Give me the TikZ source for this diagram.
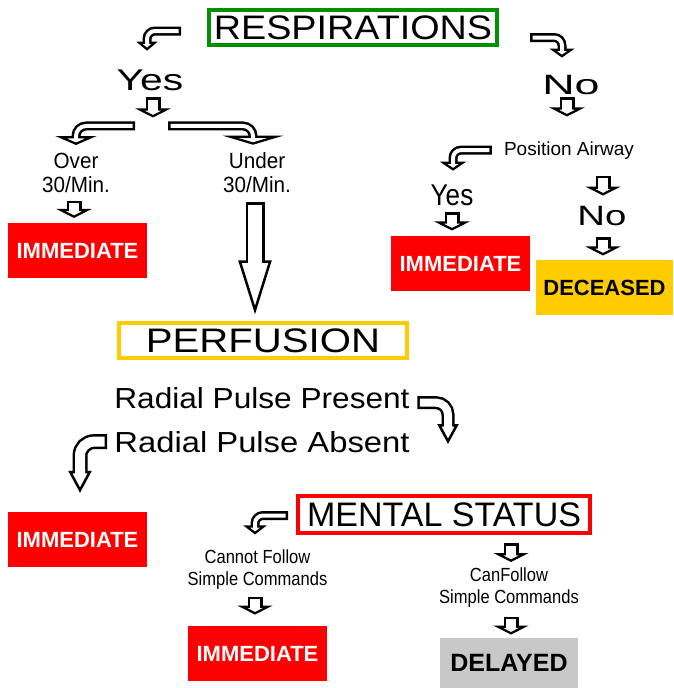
\documentclass[tikz,border=0pt]{standalone}
\usepackage{fontspec}
\setmainfont{Liberation Sans}
\usepackage{graphicx}
\usetikzlibrary{arrows.meta,calc}

\definecolor{tgreen}{RGB}{0,144,0}
\definecolor{tyellow}{RGB}{255,204,0}
\definecolor{tred}{RGB}{255,0,0}
\definecolor{tgray}{RGB}{200,200,200}

\newcommand{\widen}[2]{\scalebox{#1}[1]{#2}}
\newcommand{\fsz}[1]{\fontsize{#1}{#1}\selectfont}

\tikzset{
  word/.style={inner sep=0pt, anchor=base},
  twoline/.style={inner sep=0pt, align=center, font=\fontsize{22}{24}\selectfont},
  smalltwo/.style={inner sep=0pt, align=center, font=\fontsize{19}{22}\selectfont},
  titlebox/.style={draw=#1, line width=4pt, inner sep=0pt, font=\fsz{34}},
  tagbox/.style={fill=#1, inner sep=0pt, minimum width=139pt, minimum height=55pt, font=\fsz{22}\bfseries},
  hollow/.style n args={5}{line width=#1pt,
    -{Triangle[fill=white, width=#3pt, length=#4pt, line width=2.5pt]},
    postaction={draw=white, line width=#2pt, arrows=-, shorten <=2.5pt, shorten >=#5pt}},
  thinarr/.style={hollow={9}{4}{#1}{9}{6}, rounded corners=8pt},
  smallarr/.style={hollow={15}{10}{35}{9}{6}},
}

\begin{document}
\begin{tikzpicture}[x=1pt, y=-1pt]
  \useasboundingbox (0,0) rectangle (673,688);

  \node[titlebox=tgreen, minimum width=288pt, minimum height=35pt] (resp) at (353,27.5) {\widen{1.11}{RESPIRATIONS}};
  \node[word, font=\fsz{30}] (yes1) at (150,90) {\widen{1.36}{Yes}};
  \node[word, font=\fsz{28}] (no1) at (571,94) {\widen{1.6}{No}};
  \node[twoline] (over) at (76,173) {\widen{.94}{Over}\\\widen{.94}{30/Min.}};
  \node[twoline] (under) at (257,173) {\widen{.94}{Under}\\\widen{.94}{30/Min.}};
  \node[tagbox=tred, text=white] (imm1) at (77.5,250.5) {IMMEDIATE};
  \node[word, font=\fsz{19}] (airway) at (569,155) {Position Airway};
  \node[word, font=\fsz{30}] (yes2) at (452,205) {\widen{.87}{Yes}};
  \node[word, font=\fsz{28}] (no2) at (602,225) {\widen{1.37}{No}};
  \node[tagbox=tred, text=white] (imm2) at (460.5,263.5) {IMMEDIATE};
  \node[tagbox=tyellow, minimum width=137pt] (dead) at (604.5,287.5) {DECEASED};

  \node[titlebox=tyellow, minimum width=288pt, minimum height=35pt] (perf) at (263,340.5) {\widen{1.18}{PERFUSION}};
  \node[word, font=\fsz{29}] (present) at (262,408) {\widen{1.09}{Radial Pulse Present}};
  \node[word, font=\fsz{29}] (absent) at (262,452) {\widen{1.13}{Radial Pulse Absent}};
  \node[tagbox=tred, text=white] (imm3) at (77.5,539.5) {IMMEDIATE};

  \node[titlebox=tred, minimum width=292pt, minimum height=37pt] (mental) at (444,514.5) {MENTAL STATUS};
  \node[smalltwo] (cannot) at (257.5,569.5) {\widen{.87}{Cannot Follow}\\\widen{.87}{Simple Commands}};
  \node[smalltwo] (canfollow) at (509,588) {\widen{.87}{CanFollow}\\\widen{.87}{Simple Commands}};
  \node[tagbox=tred, text=white] (imm4) at (257.5,653.5) {IMMEDIATE};
  \node[tagbox=tgray, minimum width=138pt, minimum height=50pt, font=\fsz{25}\bfseries] (delayed) at (509,663) {DELAYED};

  \draw[thinarr=21] ($(resp.west)+(-26,3.5)$) -| ($(yes1.north)+(-3,-18.5)$);
  \draw[thinarr=25] ($(resp.east)+(31,10)$) -| ($(no1.north)+(-9,-17)$);
  \draw[smallarr] ($(yes1.south)+(3,7)$) -- ++(0,20);
  \draw[thinarr=41, rounded corners=10pt] ($(yes1.south)+(-15,35.5)$) -| ($(over.north)+(0,-8)$);
  \draw[thinarr=60, rounded corners=10pt] ($(yes1.south)+(18,35.5)$) -| ($(under.north)+(-4,-8)$);
  \draw[smallarr] ($(over.south)+(-2,8)$) -- ++(0,17);
  \draw[hollow={19}{14}{33}{54}{38}] ($(under.south)+(-2,9)$) -- ++(0,112);
  \draw[smallarr] ($(no1.south)+(-4,3)$) -- ++(0,19);
  \draw[thinarr=26] ($(airway.west)+(-12,0)$) -| ($(yes2.north)+(1,-13.5)$);
  \draw[smallarr] ($(yes2.south)+(0,7)$) -- ++(0,18);
  \draw[smallarr] ($(no2.north)+(1,-30)$) -- ++(0,20);
  \draw[smallarr] ($(no2.south)+(1,12)$) -- ++(0,18);

  \draw[hollow={13}{8}{21}{20}{14}, rounded corners=12pt] ($(present.east)+(7.5,5)$) -| ($(mental.north)+(4,-50)$);
  \draw[hollow={15}{10}{23}{22}{15}, rounded corners=14pt] ($(absent.west)+(-7,0)$) -| ($(imm3.north)+(2.5,-19)$);

  \draw[thinarr=23] ($(mental.west)+(-8,1)$) -| ($(cannot.north)+(-2.5,-15)$);
  \draw[smallarr] ($(cannot.south)+(-2.5,7)$) -- ++(0,18);
  \draw[smallarr] ($(mental.south)+(67,8)$) -- ++(0,19);
  \draw[smallarr] ($(canfollow.south)+(2,8.5)$) -- ++(0,18);
\end{tikzpicture}
\end{document}
